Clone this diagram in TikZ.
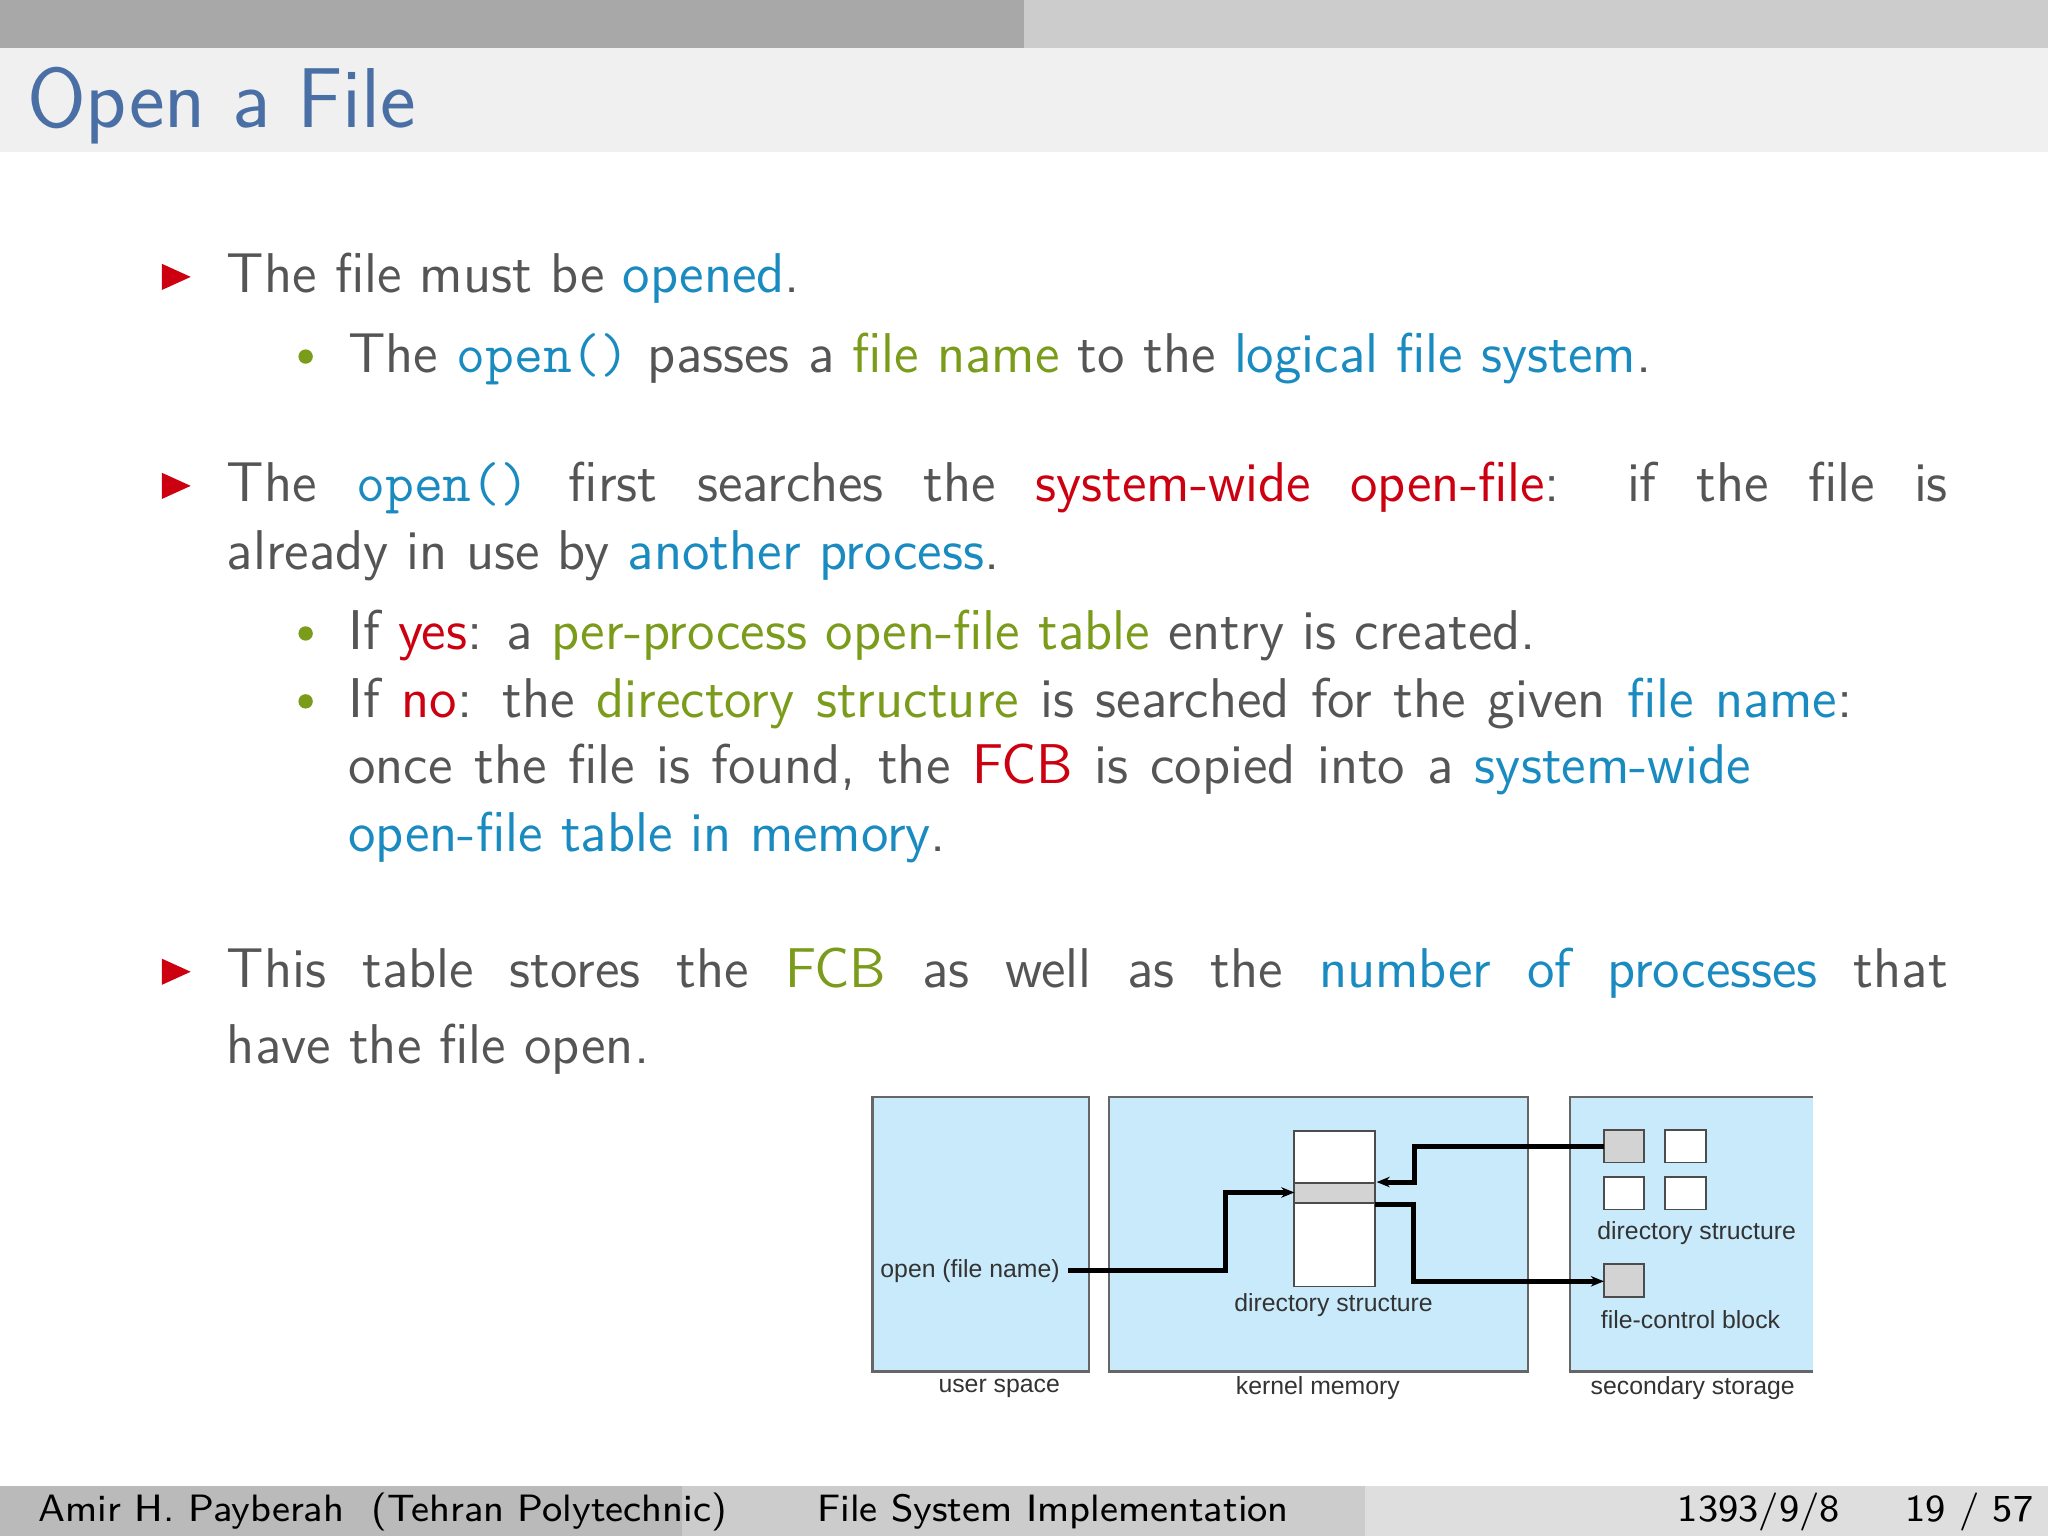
\documentclass[tikz,border=0pt]{standalone}
\usepackage{fontspec}
\usetikzlibrary{arrows.meta}
\newfontfamily\diag{Liberation Sans}
\definecolor{tgray}{HTML}{555555}
\definecolor{tblue}{HTML}{1A8BC0}
\definecolor{tgreen}{HTML}{7A9C1A}
\definecolor{tred}{HTML}{CC0010}
\definecolor{ttitle}{HTML}{4A6FA5}
\definecolor{dfill}{HTML}{C8EAFB}
\definecolor{dgray}{HTML}{D3D3D3}
\newcommand{\bl}[1]{\textcolor{tblue}{#1}}
\newcommand{\gr}[1]{\textcolor{tgreen}{#1}}
\newcommand{\rd}[1]{\textcolor{tred}{#1}}
\newcommand{\tto}{\textcolor{tblue}{\ttfamily open()}}
\begin{document}
\begin{tikzpicture}[x=0.01cm,y=-0.01cm,
  body/.style={anchor=base west,inner sep=0pt,text=tgray,font=\sffamily\fontsize{12.2}{15}\selectfont},
  tri/.style={fill=tred,draw=none},
  dot/.style={circle,fill=tgreen,inner sep=0pt,minimum size=0.11cm},
  panel/.style={fill=dfill,draw=gray!80!black,line width=0.5pt},
  cell/.style={draw=black!70,line width=0.4pt},
  lab/.style={inner sep=0pt,text=black!80,font=\diag\fontsize{5.4}{6}\selectfont},
  conn/.style={line width=1.1pt,-{Stealth[length=0.1cm,width=0.08cm]}}]
\useasboundingbox (0,0) rectangle (1568,1176);
\fill[white] (0,0) rectangle (1568,1176);
% header
\fill[black!34] (0,0) rectangle (784,37);
\fill[black!20] (784,0) rectangle (1568,37);
\fill[black!6] (0,37) rectangle (1568,116);
\node[anchor=base west,inner sep=0pt,text=ttitle,font=\sffamily\fontsize{18.5}{20}\selectfont] (title) at (20,98) {Open a File};
% footer
\fill[black!27] (0,1138) rectangle (522,1176);
\fill[black!20] (522,1138) rectangle (1045,1176);
\fill[black!13] (1045,1138) rectangle (1568,1176);
\tikzset{foot/.style={anchor=base west,inner sep=0pt,text=black,font=\sffamily\fontsize{8.3}{9}\selectfont}}
\node[foot] (f1) at (29,1165) {Amir H. Payberah\ \ (Tehran Polytechnic)};
\node[foot] (f2) at (625,1165) {File System Implementation};
\node[foot] (f3) at (1284,1165) {1393/9/8};
\node[foot] (f4) at (1458,1165) {19 / 57};
% bullets
\foreach \y/\n in {212/t1,372/t2,744/t3} \fill[tri] (124,\y-10) -- (146,\y) -- (124,\y+10) -- cycle;
\foreach \y/\n in {273/d1,485/d2,537/d3} \node[dot] (\n) at (234,\y) {};
% text
\node[body] (l1) at (173,224) {The file must be \bl{opened}.};
\node[body] (l2) at (266,285) {The \tto{} passes a \gr{file name} to the \bl{logical file system}.};
\node[body] (l3) at (173,384) {\makebox[13.17cm][s]{The \tto{} first searches the \rd{system-wide open-file}: if the file is}};
\node[body] (l4) at (173,436) {already in use by \bl{another process}.};
\node[body] (l5) at (266,497) {If \rd{yes}: a \gr{per-process open-file table} entry is created.};
\node[body] (l6) at (266,549) {\makebox[11.51cm][s]{If \rd{no}: the \gr{directory structure} is searched for the given \bl{file name}:}};
\node[body] (l7) at (266,600) {\makebox[10.73cm][s]{once the file is found, the \rd{FCB} is copied into a \bl{system-wide}}};
\node[body] (l8) at (266,652) {\bl{open-file table in memory}.};
\node[body] (l9) at (173,756) {\makebox[13.17cm][s]{This table stores the \gr{FCB} as well as the \bl{number of processes} that}};
\node[body] (l10) at (173,814) {have the file open.};
% diagram
\draw[panel] (668,840) rectangle (834,1050);
\draw[panel] (849,840) rectangle (1170,1050);
\fill[dfill] (1202,840) rectangle (1388,1050);
\draw[gray!80!black,line width=0.5pt] (1388,840) -- (1202,840) -- (1202,1050) -- (1388,1050);
\draw[cell,fill=white] (991,866) rectangle (1053,985);
\draw[cell,fill=dgray] (991,906) rectangle (1053,921);
\coordinate (rowin) at (991,913);
\coordinate (rowr) at (1054,905);
\coordinate (rowout) at (1053,922);
\draw[cell,fill=dgray] (1228,865) rectangle (1259,890);
\coordinate (sb) at (1228,878);
\draw[cell,fill=white] (1275,865) rectangle (1306,890);
\draw[cell,fill=white] (1228,901) rectangle (1259,926);
\draw[cell,fill=white] (1275,901) rectangle (1306,926);
\draw[cell,fill=dgray] (1228,968) rectangle (1259,993);
\coordinate (fcb) at (1228,981);
\node[lab,anchor=east] (op) at (812,973) {open (file name)};
\node[lab] (ds1) at (1021,999) {directory structure};
\node[lab] (ds2) at (1299,944) {directory structure};
\node[lab,anchor=west] (fcbl) at (1225,1010) {file-control block};
\node[lab] (us) at (765,1063) {user space};
\node[lab] (km) at (1009,1063) {kernel memory};
\node[lab] (ss) at (1296,1063) {secondary storage};
\draw[conn] ([xshift=0.06cm]op.east) -- (938,973) -- (938,913) -- (rowin);
\draw[conn] (sb) -- (1083,878) -- (1083,905) -- (rowr);
\draw[conn] (rowout) -- (1082,922) -- (1082,981) -- (fcb);
\end{tikzpicture}
\end{document}
